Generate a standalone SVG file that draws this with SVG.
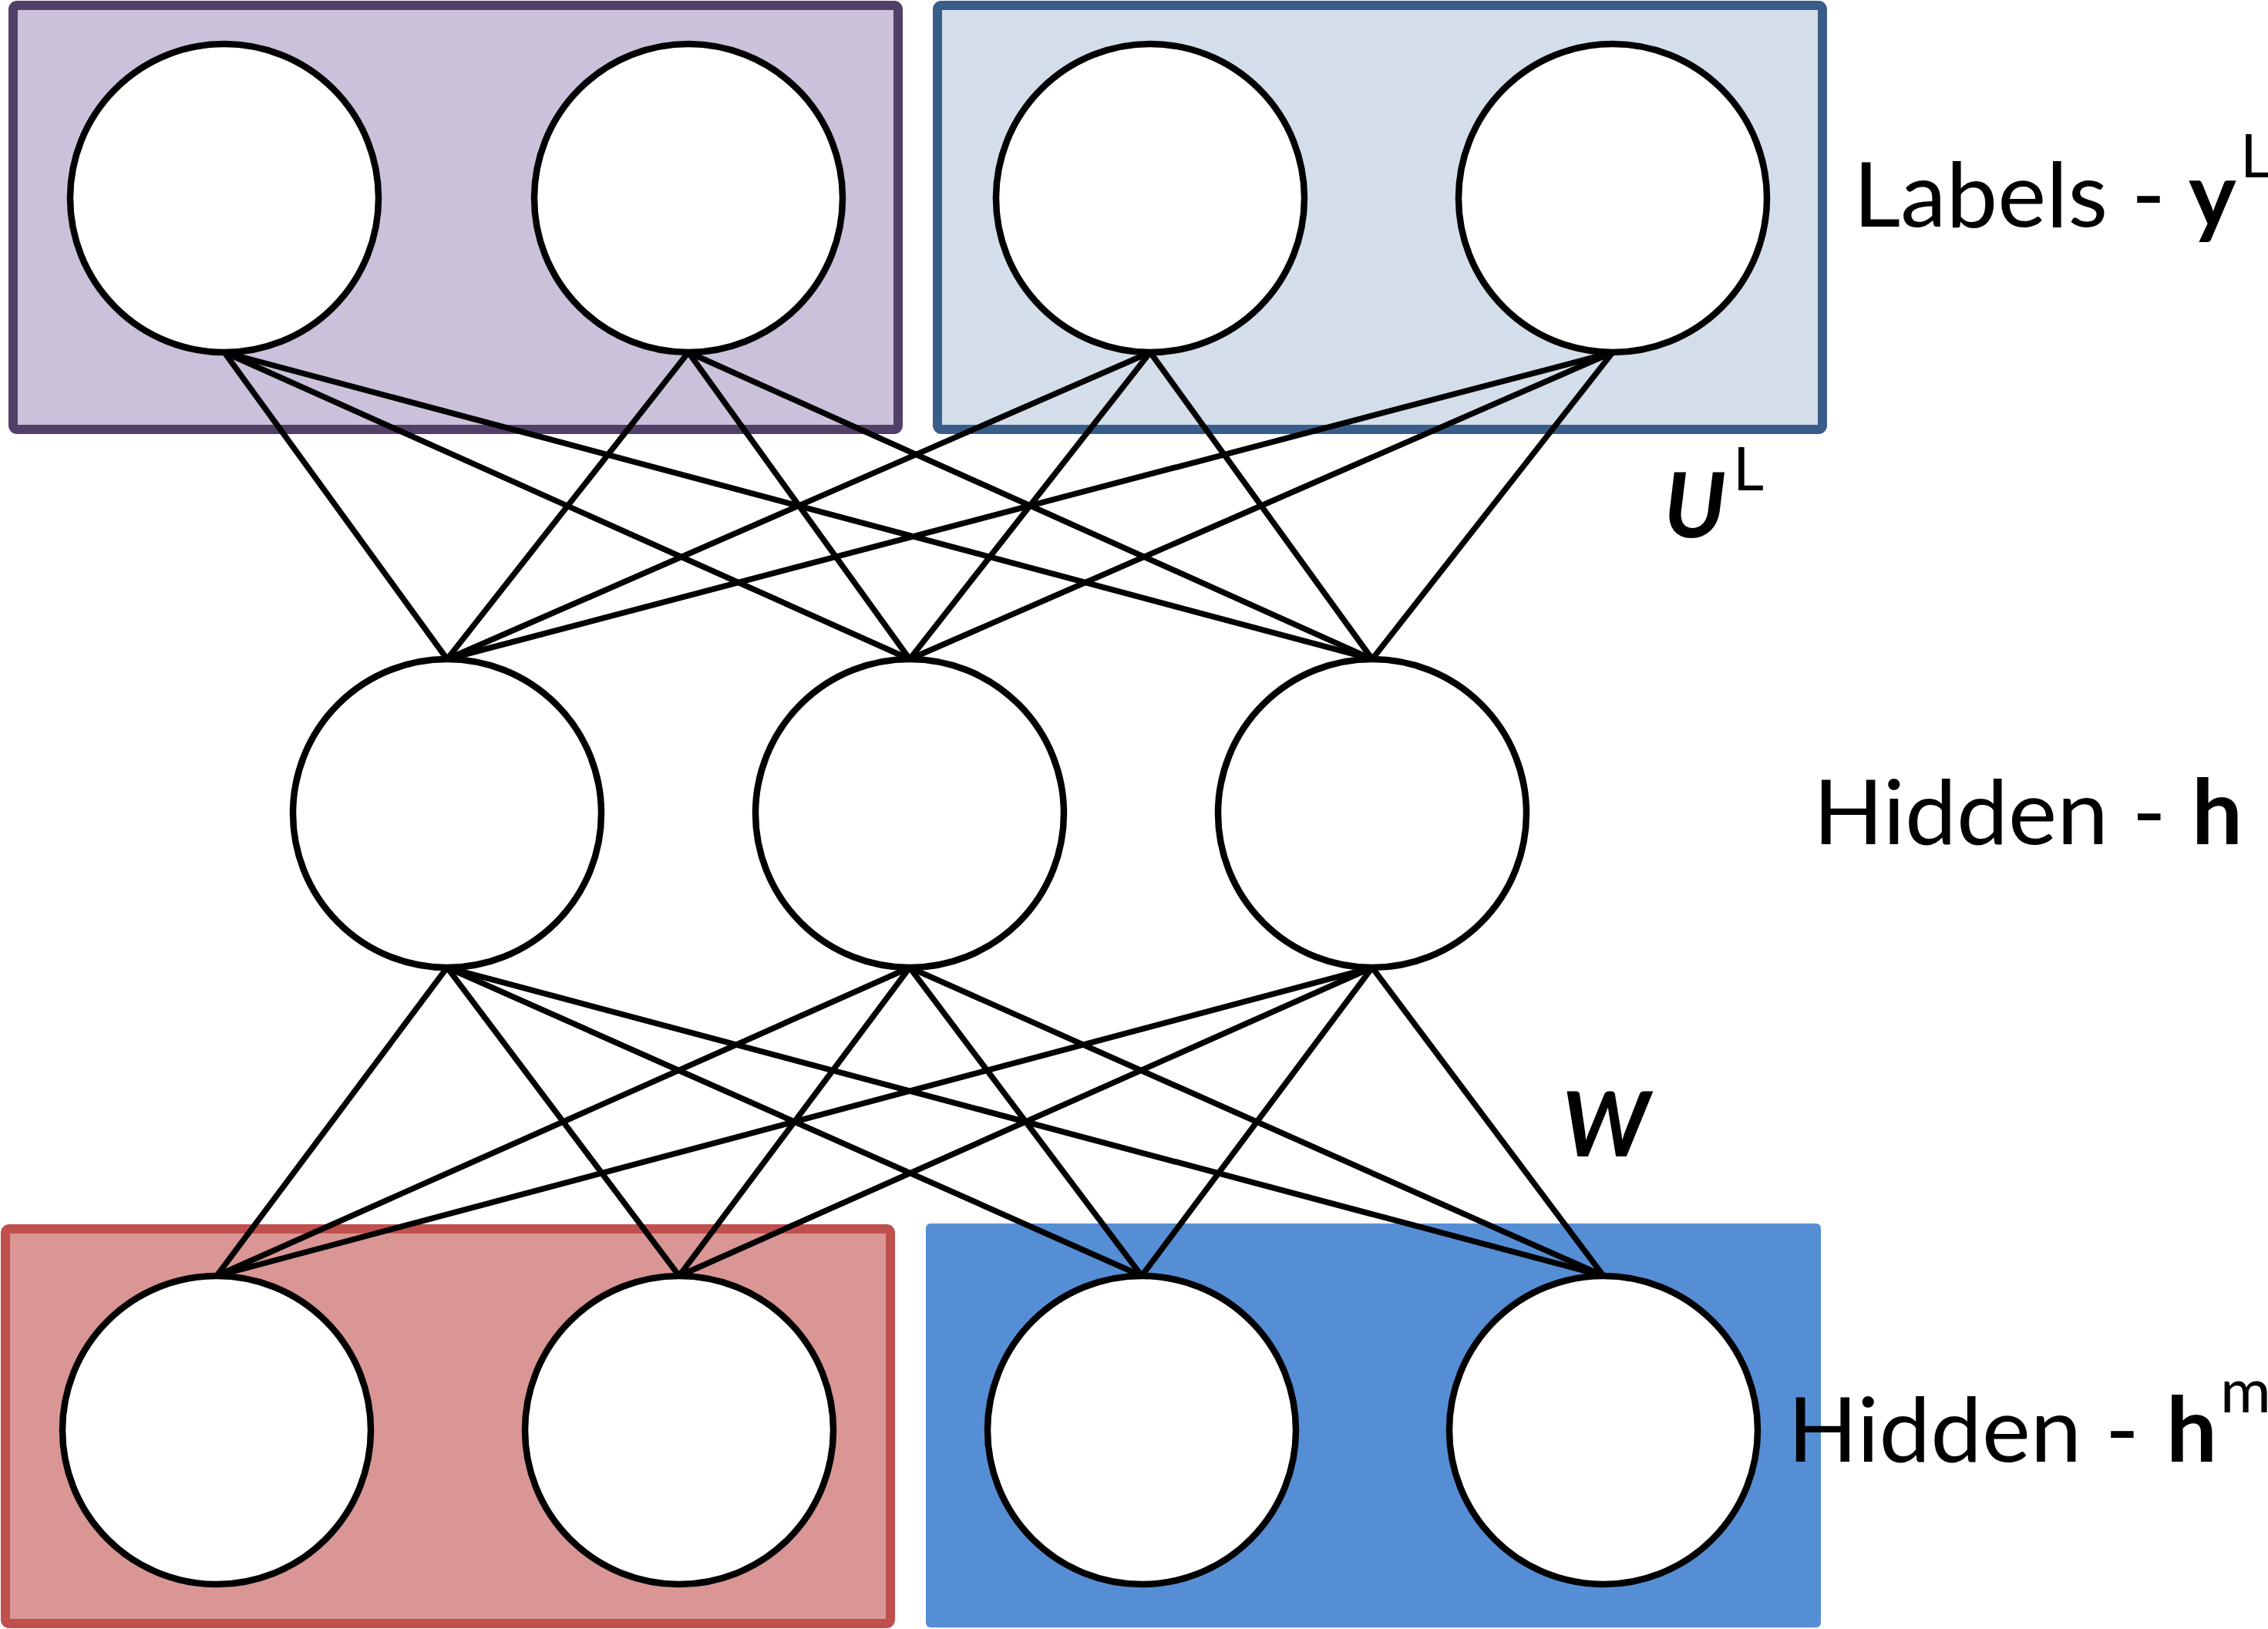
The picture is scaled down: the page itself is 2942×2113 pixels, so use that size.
<svg xmlns="http://www.w3.org/2000/svg" width="2942" height="2113" viewBox="0 0 2942 2113">
<style>
.node{fill:#ffffff;stroke:#000000;stroke-width:8.5}
.conn line{stroke:#000000;stroke-width:7.5;stroke-linecap:round}
.lbl{font-family:Lato,"Open Sans","Liberation Sans",sans-serif;fill:#000000}
.b{font-weight:bold}
.bi{font-weight:bold;font-style:italic}
</style>
<rect width="2942" height="2113" fill="#ffffff"/>
<g id="group-labels-left"><rect x="17" y="7" width="1148" height="550" rx="5" fill="#CCC1DA" stroke="#524068" stroke-width="12"/></g>
<g id="group-labels-right"><rect x="1216" y="7" width="1148" height="550" rx="5" fill="#D4DEEA" stroke="#385D8A" stroke-width="12"/></g>
<g id="group-hm-left"><rect x="7" y="1594" width="1148" height="512" rx="5" fill="#D99694" stroke="#C0504D" stroke-width="12"/></g>
<g id="group-hm-right"><rect x="1201" y="1587" width="1161" height="524" rx="6" fill="#558ED5"/></g>
<g id="connectors" class="conn">
<line x1="291" y1="457" x2="580" y2="855"/>
<line x1="291" y1="457" x2="1180" y2="855"/>
<line x1="291" y1="457" x2="1780" y2="855"/>
<line x1="893" y1="457" x2="580" y2="855"/>
<line x1="893" y1="457" x2="1180" y2="855"/>
<line x1="893" y1="457" x2="1780" y2="855"/>
<line x1="1492" y1="457" x2="580" y2="855"/>
<line x1="1492" y1="457" x2="1180" y2="855"/>
<line x1="1492" y1="457" x2="1780" y2="855"/>
<line x1="2092" y1="457" x2="580" y2="855"/>
<line x1="2092" y1="457" x2="1180" y2="855"/>
<line x1="2092" y1="457" x2="1780" y2="855"/>
<line x1="580" y1="1255" x2="281" y2="1655"/>
<line x1="580" y1="1255" x2="881" y2="1655"/>
<line x1="580" y1="1255" x2="1481" y2="1655"/>
<line x1="580" y1="1255" x2="2080" y2="1655"/>
<line x1="1180" y1="1255" x2="281" y2="1655"/>
<line x1="1180" y1="1255" x2="881" y2="1655"/>
<line x1="1180" y1="1255" x2="1481" y2="1655"/>
<line x1="1180" y1="1255" x2="2080" y2="1655"/>
<line x1="1780" y1="1255" x2="281" y2="1655"/>
<line x1="1780" y1="1255" x2="881" y2="1655"/>
<line x1="1780" y1="1255" x2="1481" y2="1655"/>
<line x1="1780" y1="1255" x2="2080" y2="1655"/>
</g>
<g id="y1"><circle class="node" cx="291" cy="257" r="200"/></g>
<g id="y2"><circle class="node" cx="893" cy="257" r="200"/></g>
<g id="y3"><circle class="node" cx="1492" cy="257" r="200"/></g>
<g id="y4"><circle class="node" cx="2092" cy="257" r="200"/></g>
<g id="h1"><circle class="node" cx="580" cy="1055" r="200"/></g>
<g id="h2"><circle class="node" cx="1180" cy="1055" r="200"/></g>
<g id="h3"><circle class="node" cx="1780" cy="1055" r="200"/></g>
<g id="m1"><circle class="node" cx="281" cy="1855" r="200"/></g>
<g id="m2"><circle class="node" cx="881" cy="1855" r="200"/></g>
<g id="m3"><circle class="node" cx="1481" cy="1855" r="200"/></g>
<g id="m4"><circle class="node" cx="2080" cy="1855" r="200"/></g>
<g id="label-labels">
<text class="lbl" x="2404" y="294" font-size="117" textLength="405" lengthAdjust="spacingAndGlyphs">Labels -</text>
<text class="lbl b" x="2839" y="294" font-size="117">y</text>
<text class="lbl" x="2906" y="230" font-size="78">L</text>
</g>
<g id="label-U">
<text class="lbl bi" x="2158" y="697" font-size="117">U</text>
<text class="lbl" x="2248" y="636" font-size="78">L</text>
</g>
<g id="label-hidden">
<text class="lbl" x="2352" y="1095" font-size="117" textLength="458" lengthAdjust="spacingAndGlyphs">Hidden -</text>
<text class="lbl b" x="2843" y="1095" font-size="117">h</text>
</g>
<g id="label-W">
<text class="lbl bi" x="2026" y="1500" font-size="117">W</text>
</g>
<g id="label-hidden-m">
<text class="lbl" x="2319" y="1896" font-size="117" textLength="456" lengthAdjust="spacingAndGlyphs">Hidden -</text>
<text class="lbl b" x="2810" y="1896" font-size="117">h</text>
<text class="lbl" x="2880" y="1832" font-size="80">m</text>
</g>
</svg>
